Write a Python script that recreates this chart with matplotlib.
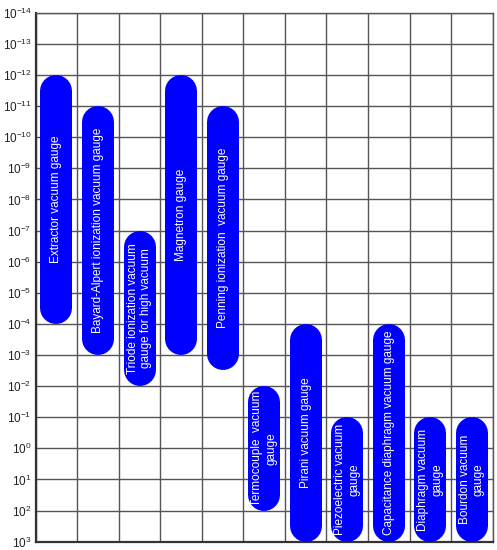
import matplotlib.pyplot as plt
import numpy as np
from matplotlib.ticker import FixedLocator, NullLocator, FuncFormatter

plt.rcParams['font.family'] = ['Liberation Sans', 'DejaVu Sans']
plt.rcParams['mathtext.default'] = 'regular'

# measuring ranges of vacuum gauges (mbar)
gauges = [
    'Extractor vacuum gauge',
    'Bayard-Alpert ionization vacuum gauge',
    'Triode ionization vacuum\ngauge for high vacuum',
    'Magnetron gauge',
    'Penning ionization  vacuum gauge',
    'Termocouple  vacuum\ngauge',
    'Pirani vacuum gauge',
    'Piezoelectric vacuum\ngauge',
    'Capacitance diaphragm vacuum gauge',
    'Diaphragm vacuum\ngauge',
    'Bourdon vacuum\ngauge',
]
p_min = [1e-12, 1e-11, 1e-7, 1e-12, 1e-11, 1e-2, 1e-4, 1e-1, 1e-4, 1e-1, 1e-1]
p_max = [1e-4, 1e-3, 1e-2, 1e-3, 3e-3, 1e2, 1e3, 1e3, 1e3, 1e3, 1e3]
decades = np.arange(-14, 4)

fig = plt.figure(figsize=(4.97, 5.5), dpi=100)
ax = fig.add_axes([0.0718, 0.0151, 0.9195, 0.9618])

ax.set_yscale('log')
ax.set_ylim(10.0 ** 3, 10.0 ** -14)
ax.set_xlim(0, len(gauges))

ax.yaxis.set_major_locator(FixedLocator(10.0 ** decades))
ax.yaxis.set_minor_locator(NullLocator())
ax.yaxis.set_major_formatter(FuncFormatter(lambda v, pos: '$10^{%d}$' % round(np.log10(v))))
ax.xaxis.set_major_locator(FixedLocator(np.arange(0, len(gauges) + 1)))
ax.set_xticklabels([])
ax.tick_params(axis='both', length=0, labelsize=8.5, colors='#222222', pad=3)
ax.grid(True, color='#555555', linewidth=1.0)
ax.set_axisbelow(True)
for side in ['top', 'right']:
    ax.spines[side].set_color('#555555')
    ax.spines[side].set_linewidth(1.0)
for side in ['left', 'bottom']:
    ax.spines[side].set_color('#333333')
    ax.spines[side].set_linewidth(1.6)

# capsule size in pixels -> data units
ax_h_px = ax.get_position().height * fig.get_figheight() * fig.dpi
px_per_decade = ax_h_px / 17
bar_px = 32
r_dec = (bar_px / 2) / px_per_decade
lw_pt = bar_px * 72 / fig.dpi

for i, (name, lo, hi) in enumerate(zip(gauges, p_min, p_max)):
    x = i + 0.5
    ax.plot([x, x], [lo * 10 ** r_dec, hi / 10 ** r_dec], color='#0000ff',
            linewidth=lw_pt, solid_capstyle='round', zorder=3)
    yc = 10 ** ((np.log10(lo) + np.log10(hi)) / 2)
    ax.text(x, yc, name, rotation=90, color='white', fontsize=8.5,
            ha='center', va='center', multialignment='center', zorder=4)

fig.savefig('out.png', dpi=100)
